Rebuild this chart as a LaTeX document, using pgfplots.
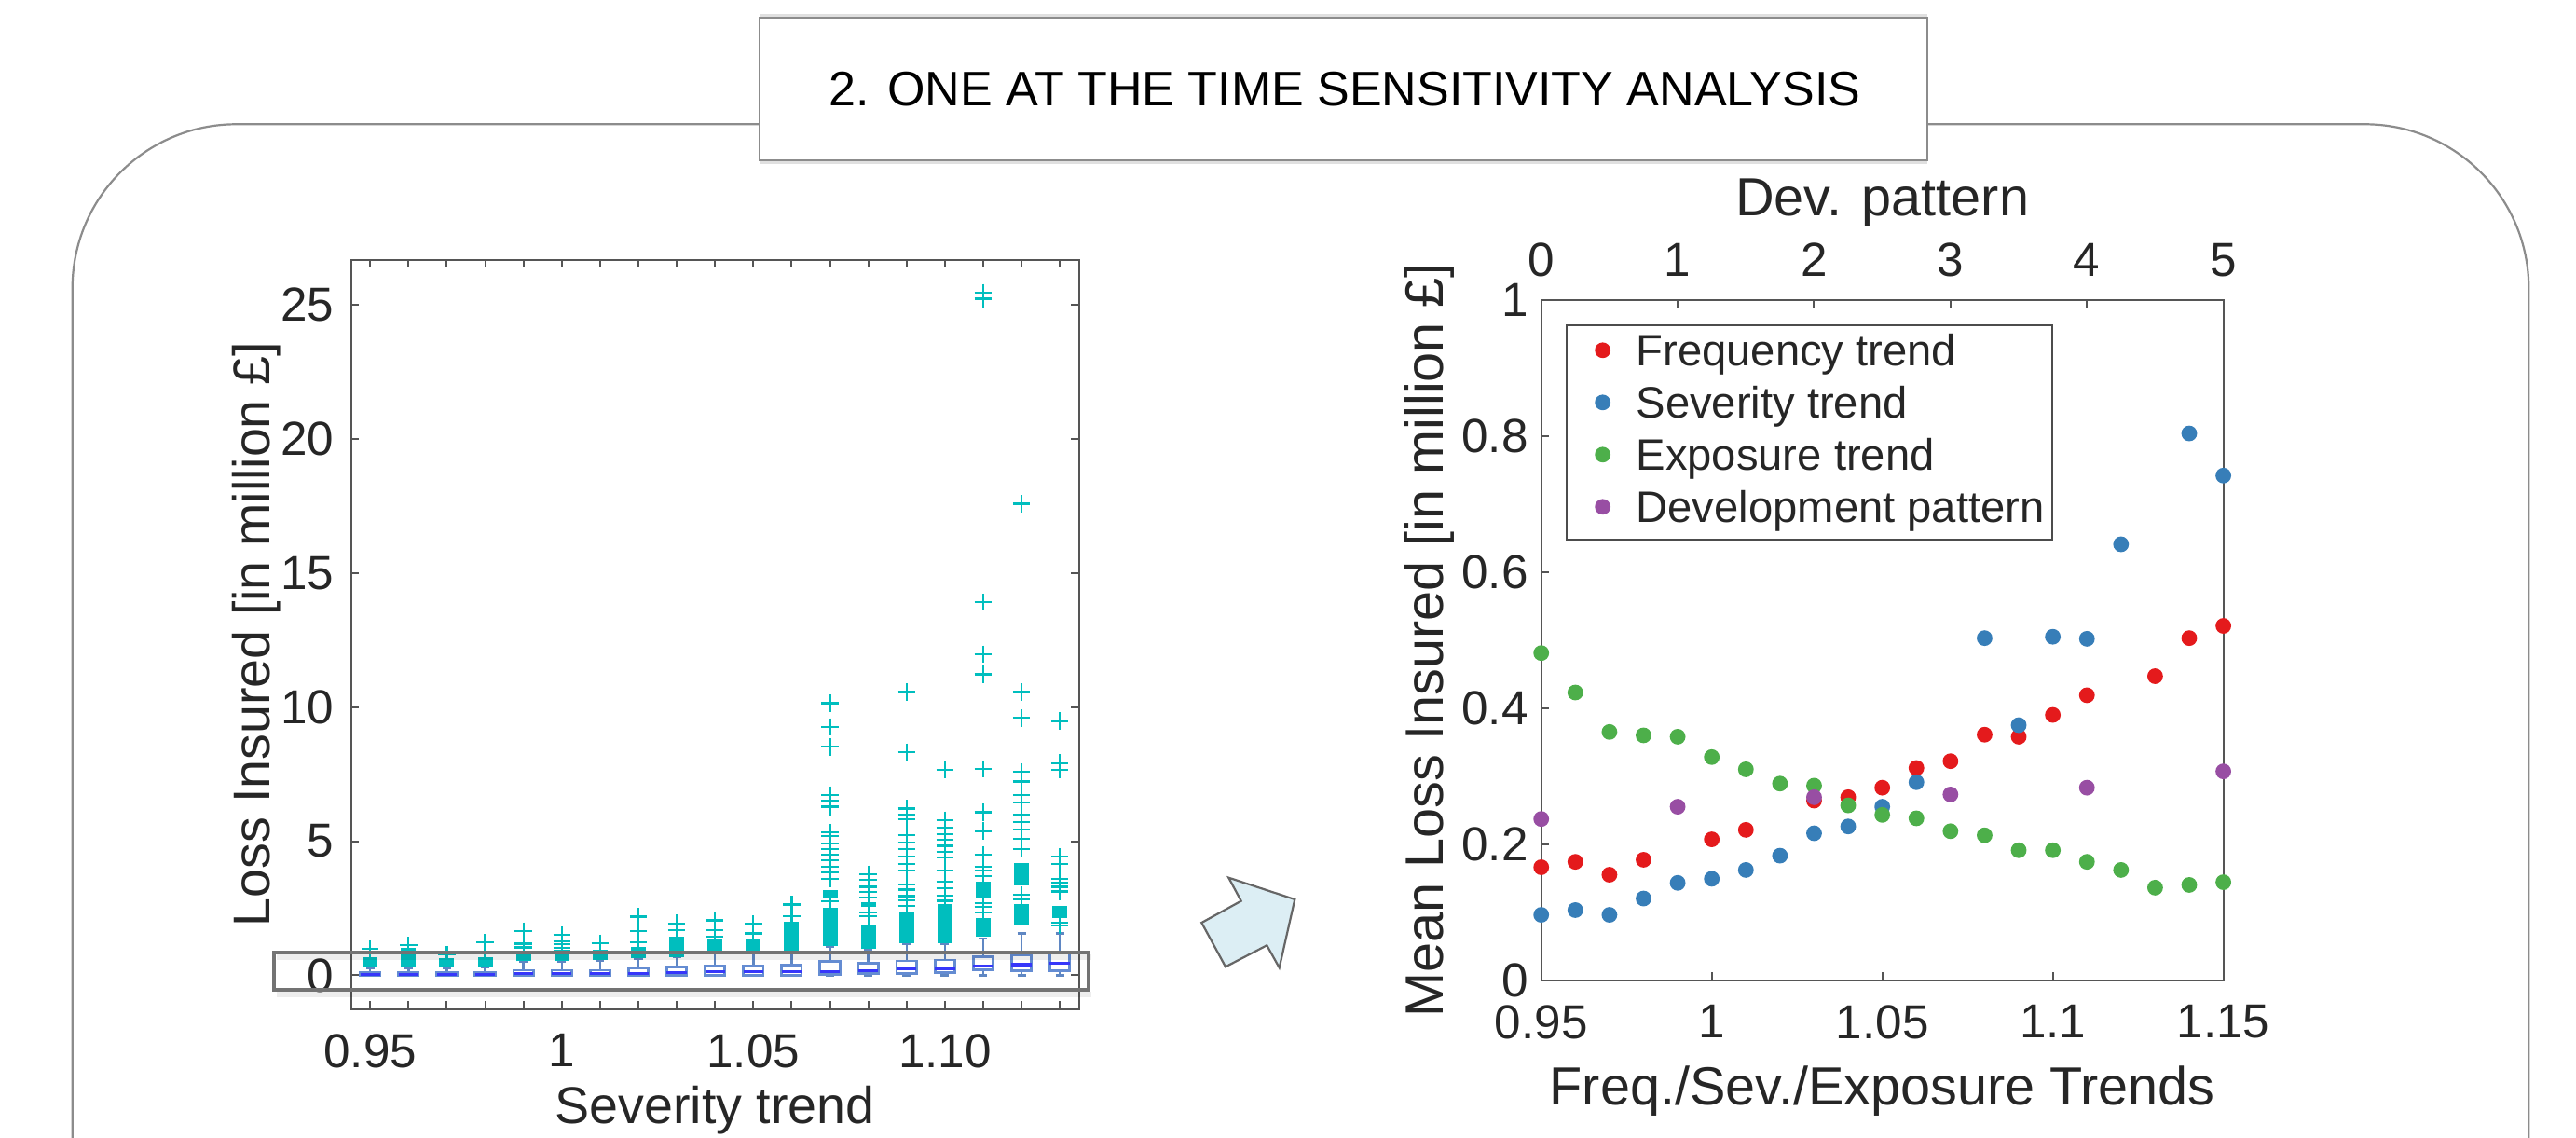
\documentclass[border=0pt]{standalone}
\usepackage{fontspec}
\setmainfont{Liberation Sans}
\usepackage{pgfplots}
\pgfplotsset{compat=1.18}
\usepgfplotslibrary{statistics}

\definecolor{cyanc}{RGB}{0,190,190}
\definecolor{boxc}{RGB}{100,140,210}
\definecolor{medc}{RGB}{55,55,250}
\definecolor{whc}{RGB}{95,135,195}
\definecolor{redc}{RGB}{228,26,28}
\definecolor{bluec}{RGB}{55,126,184}
\definecolor{greenc}{RGB}{77,175,74}
\definecolor{purplec}{RGB}{152,78,163}
\definecolor{txt}{RGB}{38,38,38}
\definecolor{axc}{RGB}{85,85,85}
\definecolor{framec}{RGB}{140,140,140}
\definecolor{arrowfill}{RGB}{220,238,244}

\newcommand{\fs}[1]{\fontsize{#1}{#1}\selectfont}

\pgfplotsset{
  lossbox/.style={
    boxplot/draw direction=y,
    boxplot/box extend=0.52,
    boxplot/whisker extend=0.22,
    boxplot/every box/.style={draw=boxc, fill=white, line width=0.7pt},
    boxplot/every whisker/.style={draw=whc, line width=0.6pt},
    boxplot/every median/.style={draw=medc, line width=0.8pt},
    mark=+, mark size=2.3pt,
    mark options={draw=cyanc, line width=0.55pt},
  },
  dots/.style={only marks, mark=*, mark size=1.9pt,
    mark options={draw=#1, fill=#1, line width=0.4pt}},
}
% x, lower whisker, lower quartile, median, upper quartile, upper whisker, outliers
\newcommand{\lossbox}[7]{%
  \addplot[lossbox, boxplot prepared={draw position=#1, lower whisker=#2,
    lower quartile=#3, median=#4, upper quartile=#5, upper whisker=#6}]
    coordinates {#7};}

\begin{document}
\begin{tikzpicture}
\tikzset{px/.style={yshift=305.25pt, x=0.25pt, y=-0.25pt}}
\path[use as bounding box] (0,0) rectangle (691pt,305.25pt);

\begin{scope}[px]
% outer frame
\draw[framec, line width=0.55pt, rounded corners=44pt]
  (77.7,1240) -- (77.7,133.3) -- (2713.3,133.3) -- (2713.3,1240);
% title box
\draw[black!12, line width=1.2pt] (816,174) -- (2068,174);
\draw[black!12, line width=1.2pt] (816,17) -- (2068,17);
\filldraw[fill=white, draw=black!45, line width=0.45pt] (814.4,19.3) rectangle (2067.7,171.7);
\node[text=black, font=\fs{13}] at (1443,96) {2. ONE AT THE TIME SENSITIVITY ANALYSIS};
% arrow
\filldraw[fill=arrowfill, draw=black!60, line width=0.55pt, line join=miter]
  (1318.3,941.7) -- (1389.3,965) -- (1372.7,1038.3) -- (1359.3,1014.3)
  -- (1315,1037.3) -- (1289.3,990) -- (1331.7,966.7) -- cycle;
\end{scope}

% ---------- left: box plots ----------
\begin{axis}[
  at={(94.175pt,34.575pt)}, anchor=south west, scale only axis,
  width=195.25pt, height=200.925pt,
  xmin=0.5, xmax=19.5, ymin=-1.26, ymax=26.68,
  xtick={1,...,19}, xticklabels={0.95,,,,,1,,,,,1.05,,,,,1.10,,,},
  ytick={0,5,10,15,20,25},
  tick align=inside, major tick length=2.1pt,
  axis line style={draw=axc, line width=0.5pt},
  every tick/.style={draw=axc, line width=0.5pt},
  ticklabel style={font=\fs{12.8}, text=txt},
  xticklabel style={yshift=-3.2pt},
  yticklabel style={xshift=-1.1pt},
  /pgf/number format/assume math mode=true,
  xlabel={Severity trend}, ylabel={Loss Insured [in million £]},
  label style={font=\fs{13.9}, text=txt},
  xlabel style={at={(axis description cs:0.5,-0.1534)}, anchor=base, inner sep=0pt},
  ylabel style={at={(axis description cs:-0.1114,0.5)}, anchor=base},
]
\lossbox{1}{0}{0}{0.03}{0.10}{0.27}{(1,0.98)}
\lossbox{2}{0}{0}{0.03}{0.11}{0.27}{(2,1.12)}
\lossbox{3}{0}{0}{0.03}{0.10}{0.27}{(3,0.78)}
\lossbox{4}{0}{0}{0.03}{0.11}{0.30}{(4,0.85)(4,1.24)}
\lossbox{5}{0}{0}{0.07}{0.19}{0.50}{(5,1.04)(5,1.18)(5,1.66)}
\lossbox{6}{0}{0}{0.07}{0.19}{0.50}{(6,0.90)(6,1.02)(6,1.16)(6,1.27)(6,1.50)}
\lossbox{7}{0}{0}{0.07}{0.19}{0.55}{(7,1.20)}
\lossbox{8}{0}{0}{0.06}{0.28}{0.62}{(8,1.22)(8,1.65)(8,2.19)}
\lossbox{9}{0}{0}{0.10}{0.30}{0.67}{(9,1.68)(9,1.94)}
\lossbox{10}{0}{0}{0.13}{0.34}{0.85}{(10,1.45)(10,1.68)(10,2.05)}
\lossbox{11}{0}{0}{0.13}{0.36}{0.90}{(11,1.56)(11,1.91)}
\lossbox{12}{0}{0.01}{0.14}{0.38}{0.90}{(12,2.20)(12,2.64)}
\lossbox{13}{0}{0.02}{0.13}{0.52}{1.05}{(13,2.75)(13,3.6)(13,3.85)(13,4.06)(13,4.28)(13,4.5)(13,4.71)(13,4.93)(13,5.2)(13,5.33)(13,6.29)(13,6.51)(13,6.73)(13,8.52)(13,9.27)(13,10.15)}
\lossbox{14}{0}{0.08}{0.17}{0.46}{0.95}{(14,2.2)(14,2.35)(14,2.9)(14,3.1)(14,3.3)(14,3.56)(14,3.78)}
\lossbox{15}{0}{0.08}{0.23}{0.54}{1.16}{(15,2.6)(15,2.8)(15,2.95)(15,3.2)(15,3.4)(15,3.92)(15,4.14)(15,4.42)(15,4.71)(15,4.96)(15,5.22)(15,5.82)(15,6.0)(15,6.22)(15,8.33)(15,10.57)}
\lossbox{16}{0}{0.11}{0.23}{0.57}{1.16}{(16,2.78)(16,2.96)(16,3.25)(16,3.5)(16,3.92)(16,4.4)(16,4.6)(16,4.83)(16,5.06)(16,5.27)(16,5.5)(16,5.79)(16,7.66)}
\lossbox{17}{0}{0.20}{0.34}{0.69}{1.38}{(17,2.35)(17,2.55)(17,2.7)(17,3.7)(17,3.9)(17,4.06)(17,4.5)(17,5.39)(17,6.08)(17,7.70)(17,11.23)(17,11.98)(17,13.92)(17,25.24)(17,25.47)}
\lossbox{18}{0}{0.17}{0.40}{0.75}{1.56}{(18,2.85)(18,3.0)(18,4.71)(18,5.1)(18,5.43)(18,5.72)(18,6.0)(18,6.44)(18,6.73)(18,7.23)(18,7.59)(18,9.6)(18,10.57)(18,17.59)}
\lossbox{19}{0}{0.17}{0.46}{0.85}{1.56}{(19,1.85)(19,1.95)(19,3.13)(19,3.3)(19,3.45)(19,3.6)(19,4.14)(19,4.42)(19,7.66)(19,7.92)(19,9.49)}
% dense runs of overlapping outliers
\addplot[draw=cyanc, line width=4pt, unbounded coords=jump, mark=none, forget plot] coordinates {
(1,0.29)(1,0.68)(1,nan)
(2,0.29)(2,1.02)(2,nan)
(3,0.29)(3,0.63)(3,nan)
(4,0.32)(4,0.69)(4,nan)
(5,0.52)(5,0.89)(5,nan)
(6,0.52)(6,0.77)(6,nan)
(7,0.58)(7,0.97)(7,nan)
(8,0.64)(8,1.05)(8,nan)
(9,0.69)(9,1.44)(9,nan)
(10,0.88)(10,1.33)(10,nan)
(11,0.92)(11,1.33)(11,nan)
(12,0.92)(12,2.00)(12,nan)
(13,1.10)(13,2.53)(13,nan)
(13,2.90)(13,3.19)(13,nan)
(14,0.98)(14,1.91)(14,nan)
(14,2.55)(14,2.72)(14,nan)
(15,1.21)(15,2.38)(15,nan)
(16,1.21)(16,2.67)(16,nan)
(17,1.45)(17,2.15)(17,nan)
(17,2.90)(17,3.48)(17,nan)
(18,1.91)(18,2.67)(18,nan)
(18,3.36)(18,4.20)(18,nan)
(19,2.15)(19,2.58)
};
\end{axis}

% highlight of the zero band
\begin{scope}[px]
\draw[black, opacity=0.07, line width=1.5pt] (297,1027) -- (1171,1027);
\draw[black, opacity=0.07, line width=1.5pt] (297,1067) -- (1171,1067);
\draw[black!55, line width=1pt] (294,1022) rectangle (1168,1062);
\end{scope}

% ---------- right: mean loss ----------
\begin{axis}[
  at={(413.425pt,42.35pt)}, anchor=south west, scale only axis,
  width=182.975pt, height=182.375pt,
  xmin=0.95, xmax=1.15, ymin=0, ymax=1,
  xtick={0.95,1,1.05,1.1,1.15}, xticklabels={0.95,1,1.05,1.1,1.15},
  ytick={0,0.2,0.4,0.6,0.8,1}, yticklabels={0,0.2,0.4,0.6,0.8,1},
  xtick pos=bottom, ytick pos=left,
  tick align=inside, major tick length=2.1pt,
  axis line style={draw=axc, line width=0.5pt},
  every tick/.style={draw=axc, line width=0.5pt},
  ticklabel style={font=\fs{12.8}, text=txt},
  xticklabel style={yshift=-3.2pt},
  xlabel={Freq./Sev./Exposure Trends}, ylabel={Mean Loss Insured [in million £]},
  label style={font=\fs{14.4}, text=txt},
  xlabel style={at={(axis description cs:0.5,-0.1829)}, anchor=base},
  ylabel style={at={(axis description cs:-0.1444,0.5)}, anchor=base},
]
\addplot[dots=redc] coordinates {
(0.95,0.166)(0.96,0.174)(0.97,0.155)(0.98,0.177)(1.00,0.207)(1.01,0.221)
(1.03,0.264)(1.04,0.269)(1.05,0.283)(1.06,0.312)(1.07,0.322)(1.08,0.361)
(1.09,0.358)(1.10,0.390)(1.11,0.419)(1.13,0.447)(1.14,0.503)(1.15,0.521)};
\addplot[dots=bluec] coordinates {
(0.95,0.096)(0.96,0.103)(0.97,0.096)(0.98,0.120)(0.99,0.143)(1.00,0.149)
(1.01,0.162)(1.02,0.183)(1.03,0.216)(1.04,0.226)(1.05,0.255)(1.06,0.291)
(1.08,0.503)(1.09,0.375)(1.10,0.505)(1.11,0.502)(1.12,0.641)(1.14,0.804)
(1.15,0.742)};
\addplot[dots=greenc] coordinates {
(0.95,0.481)(0.96,0.423)(0.97,0.365)(0.98,0.360)(0.99,0.358)(1.00,0.328)
(1.01,0.310)(1.02,0.289)(1.03,0.286)(1.04,0.257)(1.05,0.243)(1.06,0.238)
(1.07,0.219)(1.08,0.213)(1.09,0.191)(1.10,0.191)(1.11,0.174)(1.12,0.162)
(1.13,0.136)(1.14,0.140)(1.15,0.144)};
\end{axis}

\begin{axis}[
  at={(413.425pt,42.35pt)}, anchor=south west, scale only axis,
  width=182.975pt, height=182.375pt,
  xmin=0, xmax=5, ymin=0, ymax=1,
  axis x line*=top, axis y line=none,
  xtick={0,1,2,3,4,5},
  tick align=inside, major tick length=2.1pt,
  axis line style={draw=axc, line width=0.5pt, -},
  every tick/.style={draw=axc, line width=0.5pt},
  ticklabel style={font=\fs{12.8}, text=txt},
  xticklabel style={yshift=2.85pt},
  /pgf/number format/assume math mode=true,
  xlabel={Dev. pattern},
  label style={font=\fs{14.4}, text=txt},
  xlabel style={at={(axis description cs:0.5,1.1235)}, anchor=base},
  legend style={at={(axis description cs:0.036,0.9645)}, anchor=north west,
    draw=black!70, line width=0.45pt, fill=white, inner sep=2pt,
    font=\fs{11.8}, text=txt, row sep=2.5pt, column sep=1pt,
    nodes={inner sep=0pt, text height=9pt, text depth=2.5pt, anchor=base west}},
  legend cell align=left,
  legend image code/.code={%
    \path[draw=none, fill=none] (0cm,-0.08cm) rectangle (0.55cm,0.3cm);
    \draw[#1] plot coordinates {(0.27cm,0.15cm)};},
]
\addlegendimage{dots=redc}
\addlegendentry{Frequency trend}
\addlegendimage{dots=bluec}
\addlegendentry{Severity trend}
\addlegendimage{dots=greenc}
\addlegendentry{Exposure trend}
\addplot[dots=purplec] coordinates {
(0,0.237)(1,0.255)(2,0.269)(3,0.273)(4,0.283)(5,0.307)};
\addlegendentry{Development pattern}
\end{axis}
\end{tikzpicture}
\end{document}
